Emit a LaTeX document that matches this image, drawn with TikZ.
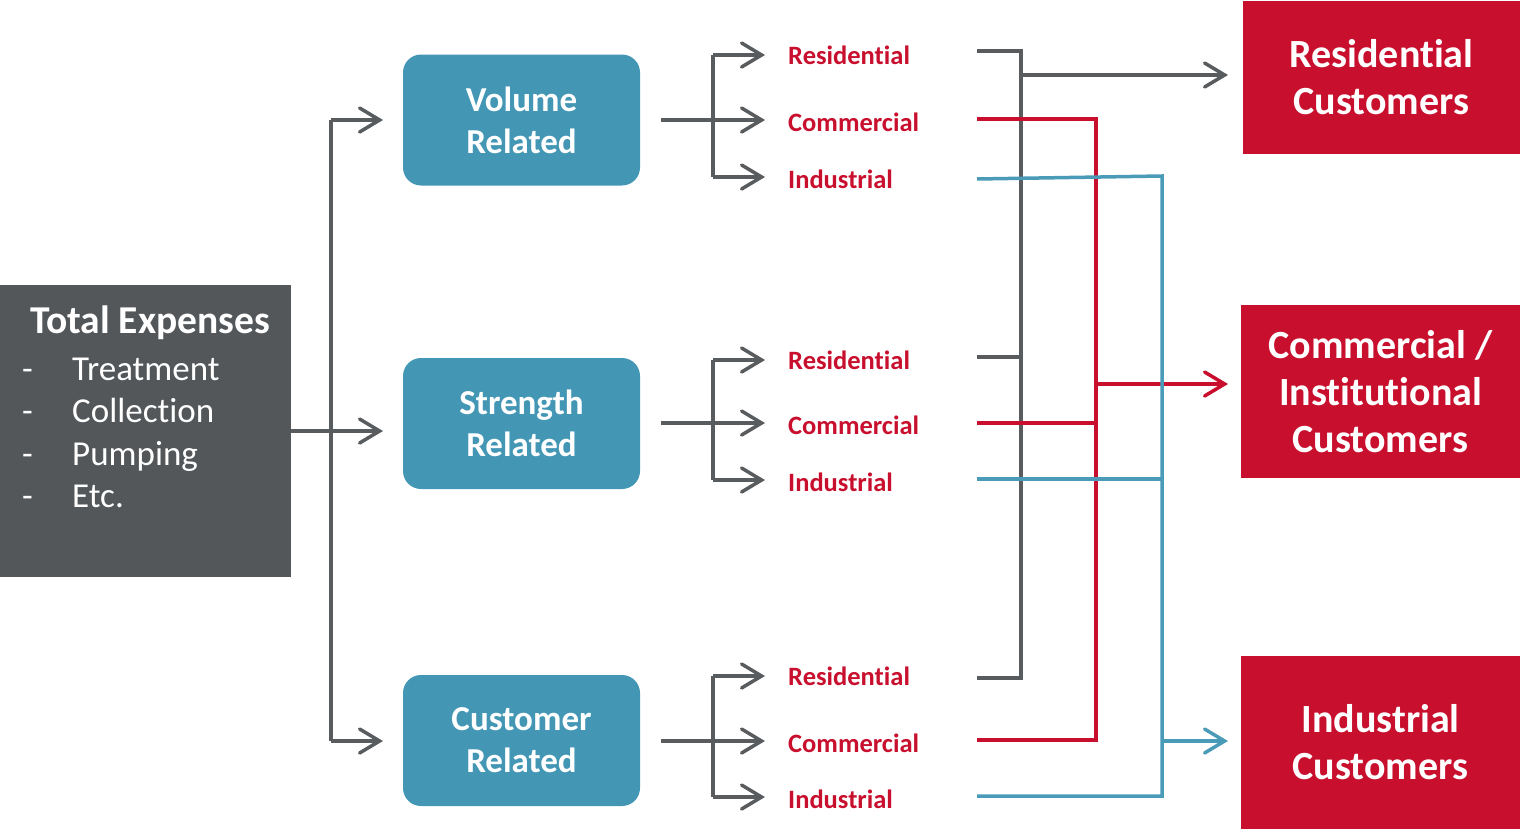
\documentclass[tikz,border=0pt]{standalone}
\usepackage{fontspec}
\setmainfont{Carlito}[Ligatures=NoCommon]
\usetikzlibrary{arrows.meta}
\definecolor{darkgrey}{HTML}{53575A}
\definecolor{linegrey}{HTML}{595C5F}
\definecolor{teal}{HTML}{4397B5}
\definecolor{tealline}{HTML}{4A9BB8}
\definecolor{crimson}{HTML}{C8102E}
\tikzset{
  ln/.style={line width=3.5pt, line join=miter},
  arr/.style={ln, -{Straight Barb[length=20pt,width=24pt,line cap=round]}},
  catbox/.style={fill=teal, rounded corners=18pt, minimum width=237pt, minimum height=131pt,
    inner sep=0pt, text=white, align=center, font=\bfseries\fontsize{35}{42}\selectfont},
  custbox/.style={fill=crimson, inner sep=0pt, text=white, align=center,
    font=\bfseries\fontsize{40}{47}\selectfont},
  sublabel/.style={anchor=base west, inner sep=0pt, text=crimson, font=\bfseries\fontsize{26.5}{30}\selectfont},
  listitem/.style={anchor=base west, inner sep=0pt, text=white, font=\fontsize{35}{40}\selectfont},
}
\begin{document}
\begin{tikzpicture}[x=1pt, y=-1pt]
\useasboundingbox (0,0) rectangle (1520,830);

% source block
\node[fill=darkgrey, minimum width=291pt, minimum height=292pt, inner sep=0pt] (tot) at (145.5,431) {};
\node[text=white, inner sep=0pt, anchor=base, font=\bfseries\fontsize{39.5}{44}\selectfont] (tottitle) at (150,333) {Total Expenses};
\foreach \t [count=\i] in {Treatment, Collection, Pumping, Etc.} {
  \node[listitem] (dash\i) at (22, {337.5+42.5*\i}) {-};
  \node[listitem] (item\i) at (72, {337.5+42.5*\i}) {\t};
}

% cost categories
\node[catbox] (vol) at (521.5,120) {Volume\\Related};
\node[catbox] (str) at (521.5,423.5) {Strength\\Related};
\node[catbox] (cus) at (521.5,740.5) {Customer\\Related};

% customer classes
\node[custbox, minimum width=277pt, minimum height=153pt] (rc) at (1381.5,77.5) {Residential\\Customers};
\node[custbox, minimum width=279pt, minimum height=173pt] (cc) at (1380.5,391.5) {Commercial /\\Institutional\\Customers};
\node[custbox, minimum width=279pt, minimum height=173pt] (ic) at (1380.5,742.5) {Industrial\\Customers};

% trunk from total expenses
\coordinate (tj1) at (331,120);
\coordinate (tj3) at (331,741);
\draw[ln, linegrey] (tj1) -- (tj3);
\draw[arr, linegrey] (tj1) -- (383,120);
\draw[arr, linegrey] (tot.east |- 0,431) -- (383,431);
\draw[arr, linegrey] (tj3) -- (383,741);

% sub labels and branch arrows
\foreach \g/\bx/\t/\c/\b in {a/vol/55/120/177, b/str/360/423/480, c/cus/676/741/797} {
  \node[sublabel] (\g res) at (788,\t+9) {Residential};
  \node[sublabel] (\g com) at (788,\c+11) {Commercial};
  \node[sublabel] (\g ind) at (788,\b+11) {Industrial};
  \coordinate (\g jt) at (713,\t);
  \coordinate (\g jb) at (713,\b);
  \draw[ln, linegrey] (\g jt) -- (\g jb);
  \draw[arr, linegrey] (\g jt) -- (765,\t);
  \draw[arr, linegrey] (661,\c) -- (765,\c);
  \draw[arr, linegrey] (\g jb) -- (765,\b);
}

% collectors: residential (grey)
\coordinate (gr1) at (1021,51);
\coordinate (gr3) at (1021,678);
\draw[ln, linegrey] (977,51) -- (gr1) -- (gr3) -- (977,678);
\draw[ln, linegrey] (977,357) -- (1021,357);
\draw[arr, linegrey] (1021,75) -- (1228,75);

% collectors: commercial (red)
\coordinate (rd1) at (1096,119);
\coordinate (rd3) at (1096,740);
\draw[ln, crimson] (977,119) -- (rd1) -- (rd3) -- (977,740);
\draw[ln, crimson] (977,423) -- (1096,423);
\draw[arr, crimson] (1096,384) -- (1228,384);

% collectors: industrial (blue)
\coordinate (bl1) at (1162,176);
\coordinate (bl3) at (1162,796);
\draw[ln, tealline] (977,179) -- (bl1) -- (bl3) -- (977,796);
\draw[ln, tealline] (977,479) -- (1162,479);
\draw[arr, tealline] (1162,741) -- (1228,741);
\end{tikzpicture}
\end{document}
